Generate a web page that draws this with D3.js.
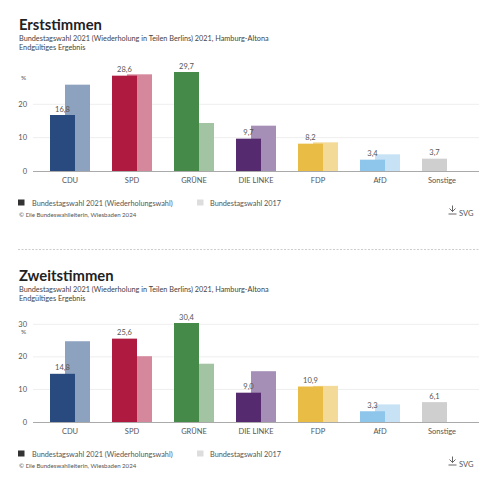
<!DOCTYPE html>
<html><head><meta charset="utf-8">
<script src="https://cdn.jsdelivr.net/npm/d3@7/dist/d3.min.js"></script>
<style>
html,body{margin:0;padding:0;background:#fff;}
svg{display:block;font-family:Lato, "Open Sans", sans-serif;}
</style></head>
<body>
<svg id="chart" width="492" height="500"></svg>
<script>
const parties = ["CDU", "SPD", "GRÜNE", "DIE LINKE", "FDP", "AfD", "Sonstige"];
const erst2021 = [16.8, 28.6, 29.7, 9.7, 8.2, 3.4, 3.7];
const erst2017 = [25.9, 29.0, 14.4, 13.6, 8.6, 5.0, null];
const zweit2021 = [14.8, 25.6, 30.4, 9.0, 10.9, 3.3, 6.1];
const zweit2017 = [24.8, 20.2, 17.9, 15.6, 11.1, 5.4, null];
const colors2021 = ["#284a7e", "#ae1a40", "#468a4a", "#562a6e", "#e9bd45", "#8ec5ea", "#cfcfcf"];
const colors2017 = ["#8da2bf", "#d5879c", "#a2c4a3", "#a58fb6", "#f3da98", "#c8e2f5", "#dddddd"];
const ticksErst = [0, 10, 20];
const ticksZweit = [0, 10, 20, 30];
const titles = ["Erststimmen", "Zweitstimmen"];
const subtitle = "Bundestagswahl 2021 (Wiederholung in Teilen Berlins) 2021, Hamburg-Altona";
const subtitle2 = "Endgültiges Ergebnis";
const legendLabels = ["Bundestagswahl 2021 (Wiederholungswahl)", "Bundestagswahl 2017"];
const source = "© Die Bundeswahlleiterin, Wiesbaden 2024";

const svg = d3.select("#chart");

function fmt(v){ return String(v.toFixed(1)).replace(".", ","); }

function drawPanel(offY, title, v21, v17, ticks){
  const g = svg.append("g").attr("transform", `translate(0,${offY})`);
  g.append("text").attr("x", 19).attr("y", 30).attr("font-size", 14.8).attr("font-weight", 700)
    .attr("fill", "#222").text(title);
  g.append("text").attr("x", 19).attr("y", 41).attr("font-size", 7.3).attr("fill", "#444").text(subtitle);
  g.append("text").attr("x", 19).attr("y", 50).attr("font-size", 7.3).attr("fill", "#444").text(subtitle2);

  const top = 72, base = 171;
  const maxV = d3.max(v21.concat(v17.filter(d => d != null)));
  const y = d3.scaleLinear().domain([0, maxV]).range([base, top]);
  const x = d3.scaleBand().domain(parties).range([39, 473]);

  // grid
  g.append("g").selectAll("line").data(ticks.filter(t => t > 0)).join("line")
    .attr("x1", 33).attr("x2", 479).attr("y1", d => y(d)).attr("y2", d => y(d))
    .attr("stroke", "#eeeeee").attr("stroke-width", 1);
  // tick labels
  g.append("g").selectAll("text").data(ticks).join("text")
    .attr("x", 27).attr("y", d => y(d) + 2.5).attr("text-anchor", "end")
    .attr("font-size", 7.5).attr("fill", "#555").text(d => d);
  const topTick = d3.max(ticks);
  const pctY = (y(topTick) - top < 6) ? y(topTick) + 9.5 : top + 8;
  g.append("text").attr("x", 21).attr("y", pctY).attr("font-size", 6.5).attr("fill", "#555").text("%");

  const bw = 25, off = 15;
  // 2017 bars (behind)
  g.append("g").selectAll("rect").data(parties.map((p, i) => ({p, v: v17[i], c: colors2017[i]})).filter(d => d.v != null))
    .join("rect")
    .attr("x", d => x(d.p) + x.bandwidth()/2 - bw + 5 + off)
    .attr("y", d => y(d.v)).attr("width", bw).attr("height", d => base - y(d.v))
    .attr("fill", d => d.c);
  // 2021 bars
  const d21 = parties.map((p, i) => ({p, v: v21[i], c: colors2021[i]}));
  g.append("g").selectAll("rect").data(d21).join("rect")
    .attr("x", d => x(d.p) + x.bandwidth()/2 - bw + 5)
    .attr("y", d => y(d.v)).attr("width", bw).attr("height", d => base - y(d.v))
    .attr("fill", d => d.c);
  g.append("g").selectAll("text").data(d21).join("text")
    .attr("x", d => x(d.p) + x.bandwidth()/2 - bw/2 + 5)
    .attr("y", d => y(d.v) - 3.5).attr("text-anchor", "middle")
    .attr("font-size", 7.5).attr("fill", "#555").text(d => fmt(d.v));

  // axis line
  g.append("line").attr("x1", 33).attr("x2", 479).attr("y1", base + 0.5).attr("y2", base + 0.5)
    .attr("stroke", "#aaaaaa").attr("stroke-width", 1);
  // category labels
  g.append("g").selectAll("text").data(parties).join("text")
    .attr("x", d => x(d) + x.bandwidth()/2).attr("y", 183).attr("text-anchor", "middle")
    .attr("font-size", 7.5).attr("fill", "#555").text(d => d);

  // legend
  g.append("rect").attr("x", 18).attr("y", 199.5).attr("width", 6.5).attr("height", 6).attr("fill", "#333");
  g.append("text").attr("x", 32).attr("y", 205.5).attr("font-size", 7.3).attr("fill", "#555").text(legendLabels[0]);
  g.append("rect").attr("x", 197).attr("y", 199.5).attr("width", 6.5).attr("height", 6).attr("fill", "#dddddd");
  g.append("text").attr("x", 210).attr("y", 205.5).attr("font-size", 7.3).attr("fill", "#555").text(legendLabels[1]);
  g.append("text").attr("x", 19).attr("y", 216.5).attr("font-size", 6.1).attr("fill", "#555").text(source);

  // SVG download
  const ix = 452.5, iy = 210;
  g.append("path").attr("d", `M${ix},${iy-4.5} V${iy+1.5} M${ix-3},${iy-1.5} L${ix},${iy+1.5} L${ix+3},${iy-1.5} M${ix-4},${iy+4} H${ix+4}`)
    .attr("stroke", "#555").attr("stroke-width", 0.9).attr("fill", "none");
  g.append("text").attr("x", 459).attr("y", 216).attr("font-size", 7.5).attr("fill", "#555").text("SVG");
}

drawPanel(0, titles[0], erst2021, erst2017, ticksErst);
svg.append("line").attr("x1", 18).attr("x2", 479).attr("y1", 249.5).attr("y2", 249.5)
  .attr("stroke", "#cccccc").attr("stroke-dasharray", "2,1.5");
drawPanel(251, titles[1], zweit2021, zweit2017, ticksZweit);
</script>
</body></html>
